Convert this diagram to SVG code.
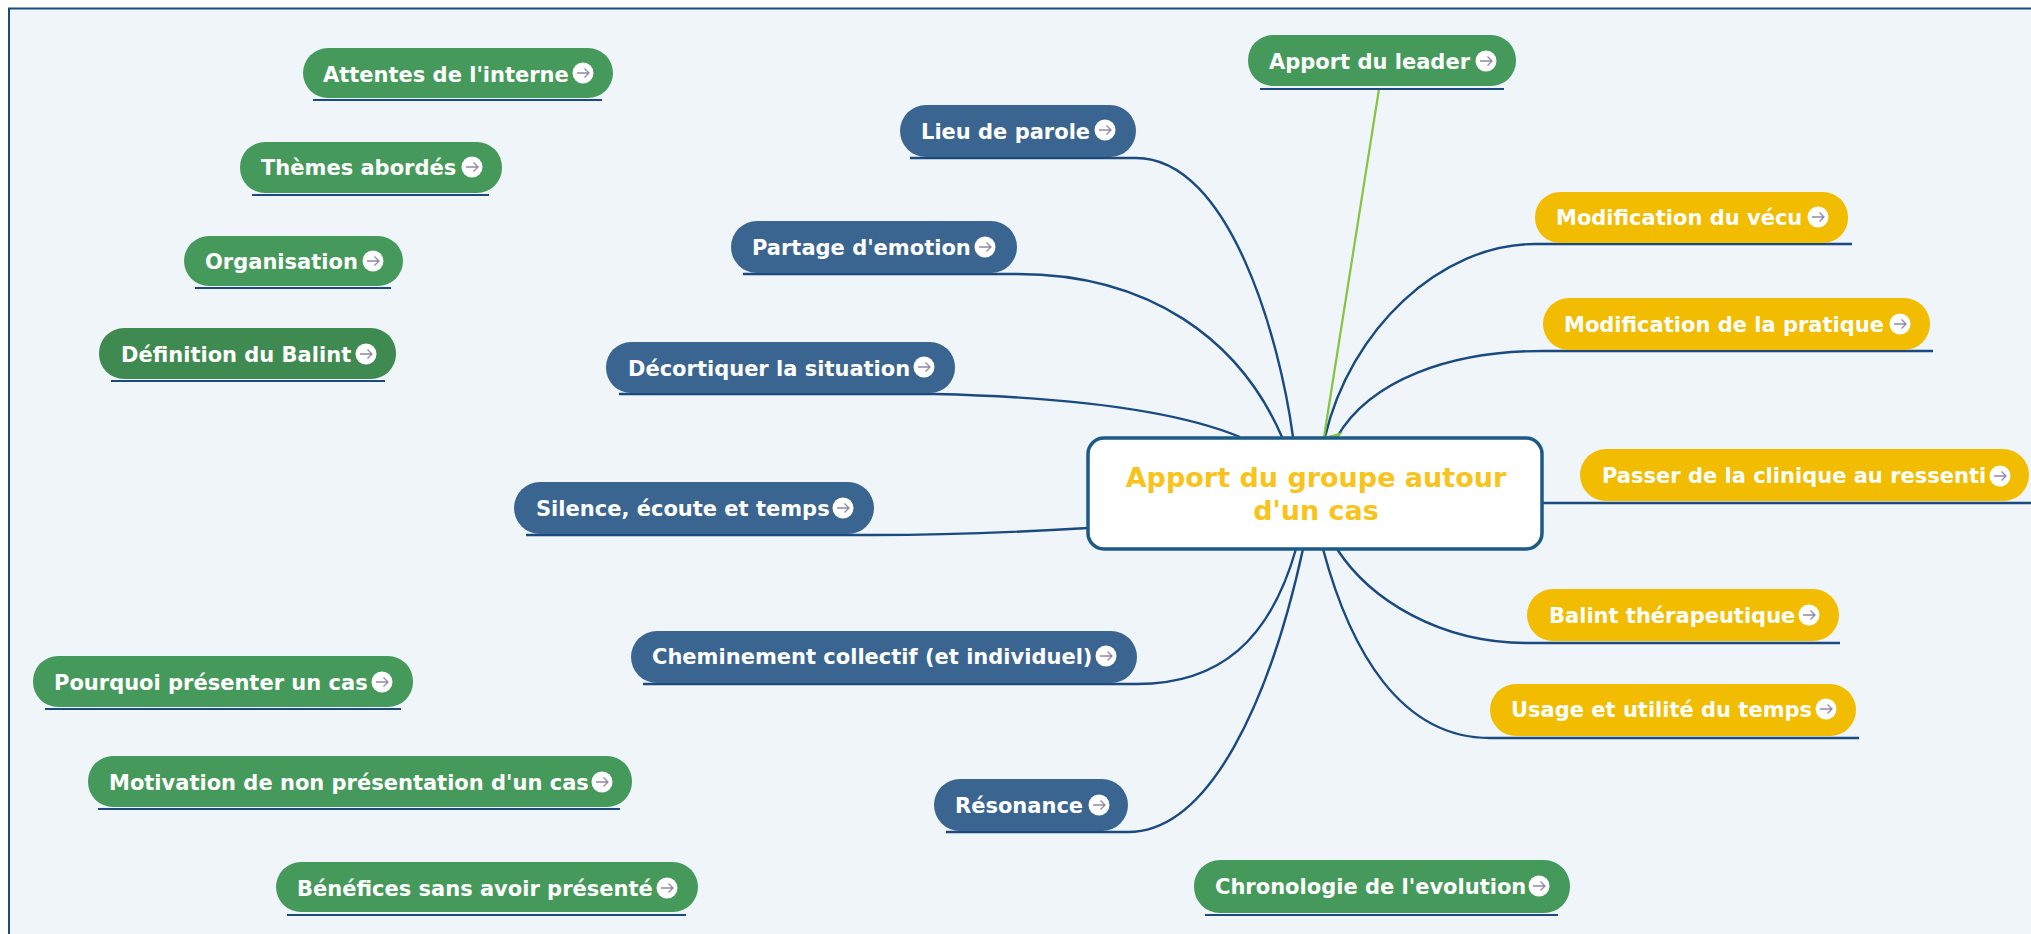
<svg xmlns="http://www.w3.org/2000/svg" width="2031" height="934" viewBox="0 0 2031 934">
<style>
text{font-family:"DejaVu Sans",sans-serif;font-weight:700}
.t{font-size:21px;fill:#fff;dominant-baseline:auto}
.g{fill:#459a5b}.d{fill:#3f8a50}.b{fill:#3a6591}.y{fill:#f2bc00}
.u{fill:none;stroke:#1a4a80;stroke-width:2}
.c{fill:none;stroke:#1a4a80;stroke-width:2.4}
</style>
<defs>
<g id="ic"><circle r="10.5" fill="#fff"/><path d="M-6 0H6M1.5-4.5L6 0L1.5 4.5" fill="none" stroke="#8f8aa8" stroke-width="1.3"/></g>
<marker id="ah" markerWidth="16" markerHeight="20" refX="8" refY="18" orient="auto" markerUnits="userSpaceOnUse"><path d="M0 0L8 18L16 0L8 5Z" fill="#84c441"/></marker>
</defs>
<rect width="2031" height="934" fill="#fff"/>
<rect x="9" y="8.500" width="2040" height="940" fill="#eff5f9" stroke="#1a4a80" stroke-width="2"/>
<g id="connectors">
<path class="c" d="M910 158H1136C1230 158 1280 340 1293 437"/>
<path class="c" d="M743 274H1017C1150 274 1240 340 1282 437"/>
<path class="c" d="M619 394H935C1060 397 1170 408 1240 437"/>
<path class="c" d="M526 535H874C950 535 1020 532 1088 528"/>
<path class="c" d="M643 684H1137C1220 684 1270 640 1296 549"/>
<path class="c" d="M946 832H1128C1210 832 1270 700 1303 549"/>
<path class="c" d="M1852 244H1535C1440 244 1350 330 1325 437"/>
<path class="c" d="M1933 351H1543C1450 351 1370 380 1337 437"/>
<path class="c" d="M1543 503H2031"/>
<path class="c" d="M1840 643H1527C1440 643 1370 600 1337 549"/>
<path class="c" d="M1859 738H1490C1400 738 1350 650 1323 549"/>
<path d="M1379 89L1324 437" fill="none" stroke="#84c441" stroke-width="2.2" marker-end="url(#ah)"/>
</g>
<g id="n-attentes"><path class="u" d="M313 100H602"/><rect class="g" x="303" y="48" width="310" height="50" rx="25"/><text class="t" x="323" y="82">Attentes de l'interne</text><use href="#ic" x="583" y="73"/></g>
<g id="n-themes"><path class="u" d="M252 195H489"/><rect class="g" x="240" y="142" width="262" height="51" rx="25"/><text class="t" x="261" y="175">Thèmes abordés</text><use href="#ic" x="472" y="167"/></g>
<g id="n-organisation"><path class="u" d="M195 288H391"/><rect class="g" x="184" y="236" width="219" height="50" rx="25"/><text class="t" x="205" y="269">Organisation</text><use href="#ic" x="373" y="261"/></g>
<g id="n-definition"><path class="u" d="M111 381H385"/><rect class="d" x="99" y="328" width="297" height="51" rx="25"/><text class="t" x="121" y="362">Définition du Balint</text><use href="#ic" x="366" y="354"/></g>
<g id="n-pourquoi"><path class="u" d="M45 709H401"/><rect class="g" x="33" y="656" width="380" height="51" rx="25"/><text class="t" x="54" y="690">Pourquoi présenter un cas</text><use href="#ic" x="382" y="682"/></g>
<g id="n-motivation"><path class="u" d="M98 809H620"/><rect class="g" x="88" y="756" width="544" height="51" rx="25"/><text class="t" x="109" y="790">Motivation de non présentation d'un cas</text><use href="#ic" x="602" y="782"/></g>
<g id="n-benefices"><path class="u" d="M287 915H686"/><rect class="g" x="276" y="862" width="422" height="50" rx="25"/><text class="t" x="297" y="896">Bénéfices sans avoir présenté</text><use href="#ic" x="667" y="888"/></g>
<g id="n-lieu"><rect class="b" x="900" y="105" width="236" height="52" rx="26"/><text class="t" x="921" y="139">Lieu de parole</text><use href="#ic" x="1105" y="130"/></g>
<g id="n-partage"><rect class="b" x="731" y="221" width="286" height="52" rx="26"/><text class="t" x="752" y="255">Partage d'emotion</text><use href="#ic" x="985" y="247"/></g>
<g id="n-decortiquer"><rect class="b" x="606" y="342" width="349" height="51" rx="25"/><text class="t" x="628" y="376">Décortiquer la situation</text><use href="#ic" x="924" y="367"/></g>
<g id="n-silence"><rect class="b" x="514" y="482" width="360" height="52" rx="26"/><text class="t" x="536" y="516">Silence, écoute et temps</text><use href="#ic" x="843" y="508"/></g>
<g id="n-cheminement"><rect class="b" x="631" y="631" width="506" height="52" rx="26"/><text class="t" x="652" y="664">Cheminement collectif (et individuel)</text><use href="#ic" x="1106" y="656"/></g>
<g id="n-resonance"><rect class="b" x="934" y="779" width="194" height="52" rx="26"/><text class="t" x="955" y="813">Résonance</text><use href="#ic" x="1099" y="805"/></g>
<g id="n-chronologie"><path class="u" d="M1205 915H1558"/><rect class="g" x="1194" y="860" width="376" height="53" rx="26"/><text class="t" x="1215" y="894">Chronologie de l'evolution</text><use href="#ic" x="1539" y="886"/></g>
<g id="n-leader"><path class="u" d="M1260 89H1504"/><rect class="g" x="1248" y="35" width="268" height="51" rx="25"/><text class="t" x="1269" y="69">Apport du leader</text><use href="#ic" x="1486" y="61"/></g>
<g id="n-vecu"><rect class="y" x="1535" y="192" width="313" height="51" rx="25"/><text class="t" x="1556" y="225">Modification du vécu</text><use href="#ic" x="1818" y="217"/></g>
<g id="n-pratique"><rect class="y" x="1543" y="298" width="387" height="52" rx="26"/><text class="t" x="1564" y="332">Modification de la pratique</text><use href="#ic" x="1900" y="324"/></g>
<g id="n-passer"><rect class="y" x="1580" y="449" width="449" height="52" rx="26"/><text class="t" x="1602" y="483">Passer de la clinique au ressenti</text><use href="#ic" x="2000" y="476"/></g>
<g id="n-balint"><rect class="y" x="1527" y="589" width="312" height="52" rx="26"/><text class="t" x="1549" y="623">Balint thérapeutique</text><use href="#ic" x="1809" y="615"/></g>
<g id="n-usage"><rect class="y" x="1490" y="684" width="366" height="52" rx="26"/><text class="t" x="1511" y="717">Usage et utilité du temps</text><use href="#ic" x="1826" y="709"/></g>
<g id="n-centre"><rect x="1088" y="438" width="454" height="111" rx="16" fill="#fff" stroke="#1c5a87" stroke-width="3.500"/>
<text x="1316" y="487" text-anchor="middle" font-size="27" fill="#f8c41c">Apport du groupe autour</text>
<text x="1316" y="520" text-anchor="middle" font-size="27" fill="#f8c41c">d'un cas</text></g>
</svg>
